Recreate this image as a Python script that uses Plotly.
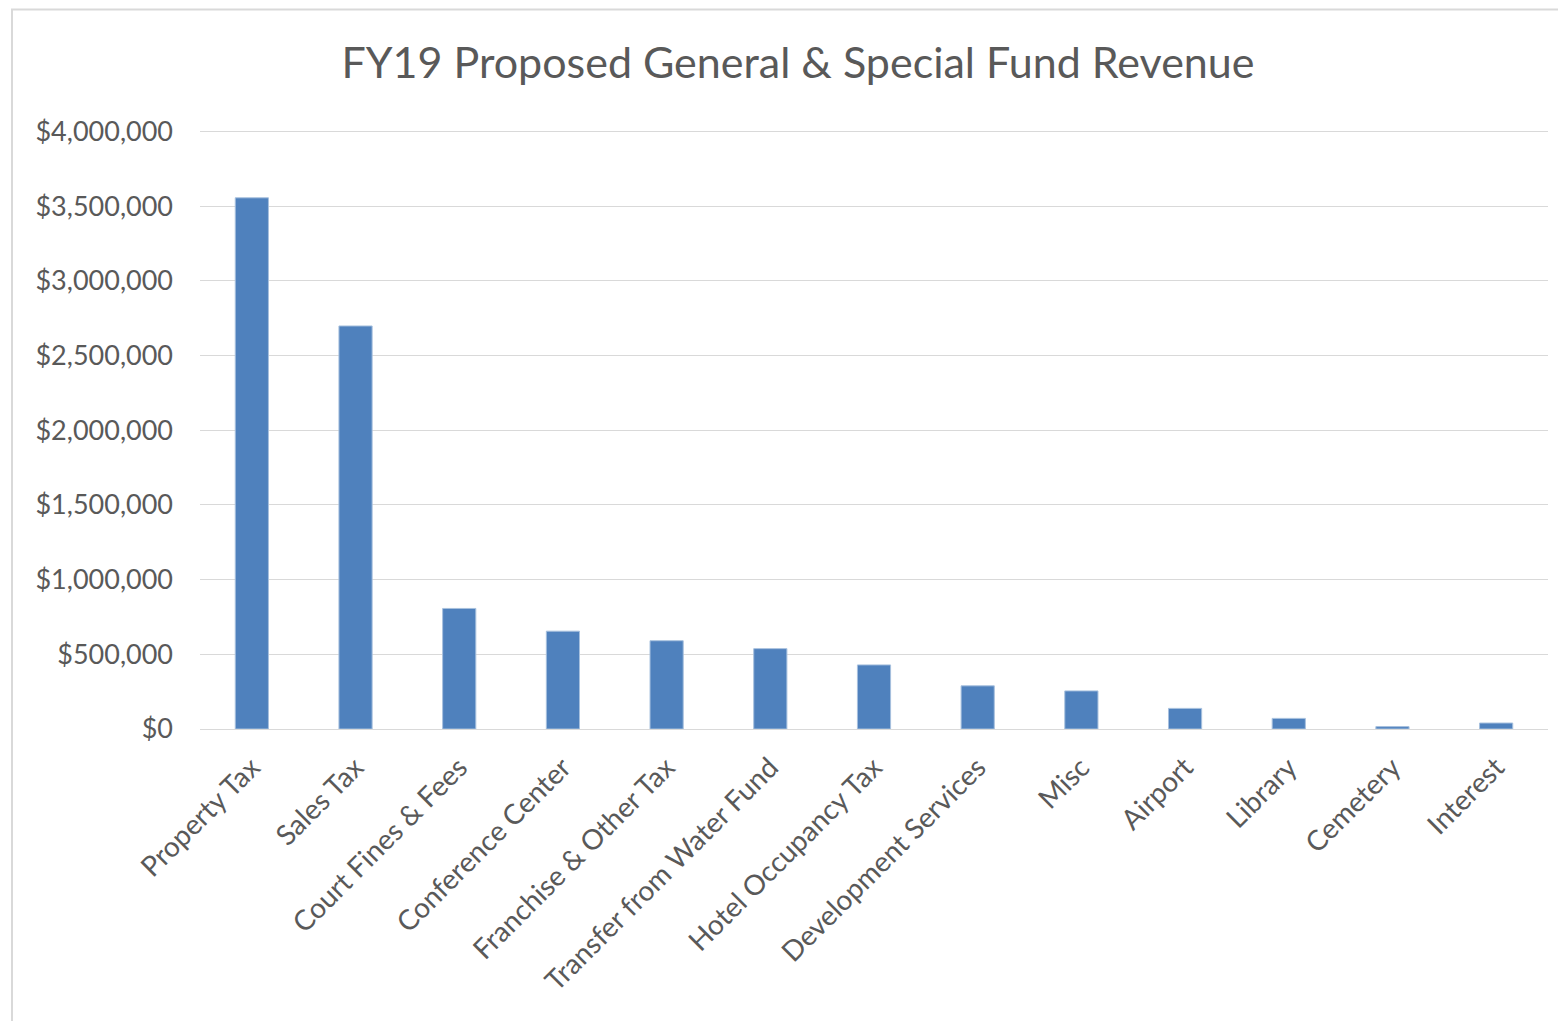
import plotly.graph_objects as go

categories = ["Property Tax", "Sales Tax", "Court Fines & Fees", "Conference Center",
              "Franchise & Other Tax", "Transfer from Water Fund", "Hotel Occupancy Tax",
              "Development Services", "Misc", "Airport", "Library", "Cemetery", "Interest"]
revenue = [3556000, 2698000, 807000, 655000, 591000, 538000, 429000,
           289000, 255000, 138000, 71000, 16000, 40000]
tick_vals = [0, 500000, 1000000, 1500000, 2000000, 2500000, 3000000, 3500000, 4000000]
tick_text = ["$0", "$500,000", "$1,000,000", "$1,500,000", "$2,000,000",
             "$2,500,000", "$3,000,000", "$3,500,000", "$4,000,000"]

fig = go.Figure(go.Bar(
    x=categories, y=revenue,
    marker=dict(color="#4F81BD", line=dict(color="#A7C0DE", width=1)),
))

# page body has an 8px offset
OFF = 8
Y_TOP = 4030000
W, H = 1566 - OFF, 1021 - OFF
ph = 598 * Y_TOP / 4000000
L, R, B = 200 - OFF, 18, 292
T = H - B - ph
pw = W - L - R

fig.update_layout(
    width=W, height=H,
    margin=dict(l=L, r=R, t=T, b=B),
    paper_bgcolor="white", plot_bgcolor="white",
    bargap=0.68,
    showlegend=False,
    font=dict(family="Lato, Open Sans, sans-serif", color="#595959"),
    title=dict(text="FY19 Proposed General & Special Fund Revenue",
               x=(798 - OFF) / W, xanchor="center", y=1 - (63 - OFF) / H, yanchor="middle",
               font=dict(size=43, color="#595959", family="Lato, Open Sans, sans-serif")),
    xaxis=dict(tickangle=-45, tickfont=dict(size=28, color="#595959"),
               showgrid=False, showline=True, linecolor="#D9D9D9", linewidth=1,
               ticks="", ticklabelstandoff=10),
    yaxis=dict(range=[0, Y_TOP], tickvals=tick_vals, ticktext=tick_text,
               tickfont=dict(size=27, color="#595959"),
               showgrid=True, gridcolor="#D9D9D9", gridwidth=1,
               zeroline=False, showline=False, ticks="", ticklabelstandoff=26),
    shapes=[dict(type="rect", xref="paper", yref="paper",
                 x0=(12 - OFF - L) / pw, x1=(W + 5 - L) / pw,
                 y0=(T + ph - (H + 5)) / ph, y1=(T + ph - 1) / ph,
                 line=dict(color="#D9D9D9", width=2), fillcolor="rgba(0,0,0,0)",
                 layer="below")],
)

fig.write_html("out.html")
